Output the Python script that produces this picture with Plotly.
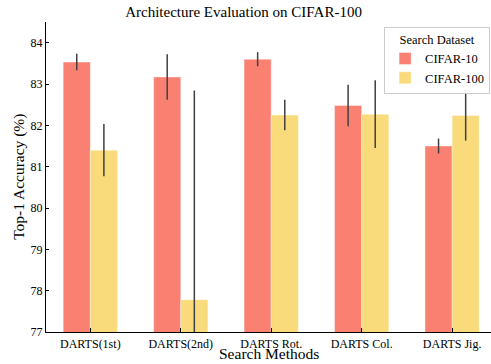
import plotly.graph_objects as go

methods = ["DARTS(1st)", "DARTS(2nd)", "DARTS Rot.", "DARTS Col.", "DARTS Jig."]
cifar10 = [83.53, 83.17, 83.60, 82.48, 81.50]
cifar10_err = [0.20, 0.55, 0.17, 0.50, 0.18]
cifar100 = [81.40, 77.78, 82.25, 82.27, 82.24]
cifar100_err = [0.63, 5.06, 0.37, 0.82, 0.61]
y_ticks = [77, 78, 79, 80, 81, 82, 83, 84]

font = "Liberation Serif, Times New Roman, serif"
fig = go.Figure()
fig.add_trace(go.Bar(
    name="CIFAR-10", x=methods, y=cifar10,
    marker=dict(color="#FA8072", line=dict(color="rgba(255,255,255,0.5)", width=0.8)),
    error_y=dict(type="data", array=cifar10_err, color="#404040", thickness=1.5, width=0),
))
fig.add_trace(go.Bar(
    name="CIFAR-100", x=methods, y=cifar100,
    marker=dict(color="#F9DB7B", line=dict(color="rgba(255,255,255,0.5)", width=0.8)),
    error_y=dict(type="data", array=cifar100_err, color="#404040", thickness=1.5, width=0),
))
fig.update_layout(
    width=491, height=364,
    margin=dict(l=46, r=0, t=22, b=32),
    paper_bgcolor="white", plot_bgcolor="white",
    font=dict(family=font, size=12, color="black"),
    barmode="group", bargap=0.4, bargroupgap=0,
    title=dict(text="Architecture Evaluation on CIFAR-100", x=0.496, xanchor="center",
               y=0.967, yanchor="middle", font=dict(size=15, family=font)),
    legend=dict(title=dict(text="Search Dataset", font=dict(size=12.5, family=font), side="top center"),
                x=0.998, xanchor="right", y=0.985, yanchor="top",
                bordercolor="#cccccc", borderwidth=1, bgcolor="rgba(255,255,255,0.9)",
                font=dict(size=12.5, family=font), tracegroupgap=0),
    showlegend=True,
    annotations=[
        dict(text="Search Methods", xref="paper", yref="paper", x=0.5, y=-0.07,
             xanchor="center", yanchor="middle", showarrow=False,
             font=dict(size=15.5, family=font)),
        dict(text="Top-1 Accuracy (%)", xref="paper", yref="paper", x=-0.061, y=0.5,
             xanchor="center", yanchor="middle", textangle=-90, showarrow=False,
             font=dict(size=15.5, family=font)),
    ],
)
fig.update_xaxes(
    range=[-0.49, 4.43], showline=True, linecolor="black", linewidth=1.2,
    ticks="inside", ticklen=4, tickcolor="black", showgrid=False, automargin=False,
    tickfont=dict(size=12, family=font),
)
fig.update_yaxes(
    range=[77, 84.5], tickvals=y_ticks, showline=True, linecolor="black", linewidth=1.2,
    ticks="inside", ticklen=3, tickcolor="black", showgrid=False, zeroline=False, automargin=False,
    tickfont=dict(size=12, family=font),
)
fig.write_html("out.html", config={"displayModeBar": False},
               post_script="document.body.style.margin='0';")
